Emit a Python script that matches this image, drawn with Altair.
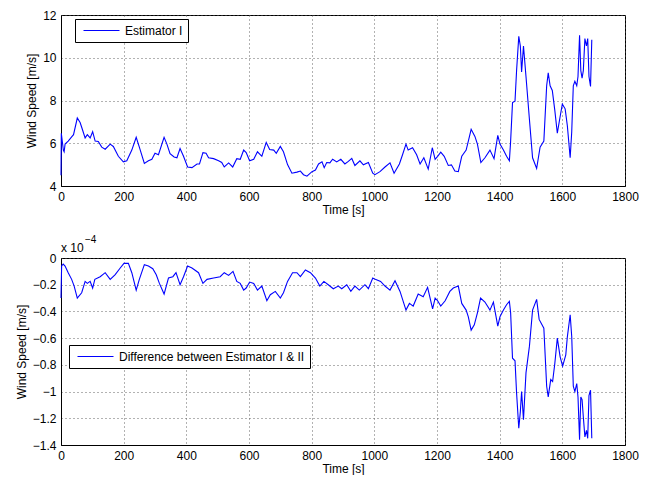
import altair as alt
import pandas as pd

# ---- Top panel: Estimator I wind speed [m/s] ----
t1 = [0, 1, 7.5, 10, 13, 23, 34, 40, 52, 61, 66, 77, 84, 93, 101, 109, 119, 130, 141, 157, 167,
      183, 199, 210, 226, 240, 250, 266, 279, 290, 300, 311, 329, 338, 348, 361, 370, 380, 391,
      404, 418, 434, 442, 453, 463, 471, 487, 503, 513, 521, 535, 548, 561, 572, 583, 591, 602,
      615, 627, 641, 655, 666, 679, 687, 700, 710, 723, 737, 753, 764, 774, 785, 801, 812, 822,
      833, 840, 848, 858, 867, 880, 893, 906, 917, 928, 938, 954, 965, 981, 995, 1002, 1018,
      1034, 1050, 1063, 1080, 1090, 1101, 1108, 1122, 1135, 1146, 1158, 1172, 1185, 1194, 1202,
      1212, 1223, 1236, 1246, 1257, 1268, 1279, 1293, 1300, 1309, 1321, 1329, 1340, 1353, 1369,
      1382, 1394, 1401, 1412, 1422, 1431, 1435, 1441, 1449, 1454, 1461, 1466, 1470, 1476, 1484,
      1495, 1505, 1518, 1529, 1541, 1550, 1555, 1561, 1568, 1576, 1584, 1593, 1600, 1609, 1616,
      1625, 1630, 1635, 1640, 1646, 1650, 1655, 1659, 1663, 1667, 1672, 1677, 1681, 1685, 1690,
      1694]
v1 = [4.5, 6.47, 5.68, 5.6, 5.96, 6.1, 6.3, 6.4, 7.18, 6.97, 6.75, 6.25, 6.4, 6.25, 6.54, 6.1,
      6.08, 5.82, 5.72, 5.96, 5.85, 5.39, 5.13, 5.18, 5.68, 6.28, 5.82, 5.06, 5.18, 5.25, 5.53,
      5.46, 6.28, 5.96, 5.51, 5.36, 5.32, 5.75, 5.39, 4.89, 4.86, 5.03, 5.03, 5.56, 5.53, 5.32,
      5.28, 5.18, 5.10, 4.89, 5.08, 4.89, 5.28, 5.25, 5.68, 5.56, 5.18, 5.25, 5.60, 5.39, 6.04,
      5.71, 5.68, 5.53, 5.85, 5.60, 5.00, 4.60, 4.65, 4.70, 4.53, 4.46, 4.67, 4.75, 5.03, 5.13,
      4.86, 5.10, 5.08, 5.25, 5.13, 5.25, 5.03, 5.15, 5.29, 4.96, 5.18, 4.99, 5.10, 4.60, 4.53,
      4.67, 4.89, 5.08, 4.60, 5.03, 5.46, 5.96, 5.68, 5.79, 5.46, 5.03, 5.32, 4.79, 5.79, 5.25,
      5.39, 5.58, 5.39, 4.96, 4.99, 4.70, 4.67, 5.39, 5.68, 6.10, 6.65, 6.32, 5.96, 5.10, 5.32,
      5.68, 5.28, 6.37, 5.96, 5.68, 5.39, 5.18, 6.10, 7.90, 7.97, 9.40, 11.0, 10.55, 9.33, 10.55,
      9.12, 7.11, 5.32, 4.82, 5.82, 6.10, 8.69, 9.29, 8.69, 8.47, 7.54, 6.47, 7.25, 7.83, 7.61,
      6.82, 5.32, 6.54, 8.69, 8.90, 8.69, 9.12, 11.05, 9.40, 9.05, 9.40, 10.90, 10.55, 10.90,
      9.12, 8.66, 10.84]
series1 = "Estimator I"

# ---- Bottom panel: difference between estimators [x 1e-4 m/s] ----
t2 = [0, 2, 7, 13, 23, 34, 42, 52, 66, 77, 84, 93, 101, 108, 125, 141, 157, 173, 189, 201, 215,
      226, 240, 250, 266, 279, 293, 304, 314, 329, 343, 357, 367, 380, 391, 404, 418, 439, 453,
      466, 487, 508, 521, 535, 549, 561, 572, 583, 591, 602, 615, 627, 641, 657, 668, 684, 700,
      710, 723, 739, 753, 764, 780, 796, 812, 826, 839, 853, 869, 885, 896, 912, 925, 938, 952,
      970, 981, 995, 1003, 1020, 1034, 1050, 1066, 1082, 1101, 1112, 1124, 1140, 1156, 1170,
      1186, 1194, 1202, 1212, 1226, 1241, 1252, 1268, 1279, 1293, 1300, 1309, 1319, 1329, 1339,
      1353, 1369, 1380, 1394, 1401, 1412, 1422, 1431, 1435, 1441, 1449, 1454, 1461, 1466, 1470,
      1476, 1484, 1495, 1505, 1518, 1526, 1541, 1550, 1555, 1563, 1569, 1576, 1584, 1593, 1601,
      1611, 1616, 1625, 1630, 1635, 1640, 1646, 1650, 1655, 1659, 1663, 1667, 1672, 1677, 1681,
      1685, 1690, 1694]
v2 = [-0.30, -0.06, -0.045, -0.06, -0.11, -0.16, -0.21, -0.30, -0.26, -0.175, -0.19, -0.175,
      -0.225, -0.16, -0.14, -0.11, -0.16, -0.125, -0.075, -0.04, -0.04, -0.11, -0.24, -0.16,
      -0.05, -0.06, -0.08, -0.125, -0.19, -0.27, -0.15, -0.14, -0.11, -0.20, -0.14, -0.06,
      -0.075, -0.11, -0.19, -0.16, -0.15, -0.14, -0.11, -0.13, -0.10, -0.175, -0.19, -0.24,
      -0.225, -0.18, -0.19, -0.24, -0.21, -0.32, -0.275, -0.25, -0.30, -0.26, -0.175, -0.11,
      -0.11, -0.14, -0.09, -0.11, -0.15, -0.21, -0.175, -0.20, -0.23, -0.21, -0.23, -0.20,
      -0.25, -0.21, -0.24, -0.20, -0.23, -0.15, -0.16, -0.175, -0.21, -0.24, -0.17, -0.25,
      -0.39, -0.34, -0.36, -0.27, -0.29, -0.22, -0.38, -0.30, -0.32, -0.36, -0.32, -0.25,
      -0.225, -0.21, -0.34, -0.39, -0.44, -0.54, -0.50, -0.41, -0.30, -0.33, -0.39, -0.33,
      -0.51, -0.44, -0.39, -0.35, -0.325, -0.41, -0.75, -0.77, -1.01, -1.275, -1.15, -1.00,
      -1.21, -0.86, -0.66, -0.39, -0.31, -0.46, -0.525, -0.96, -1.04, -0.91, -0.925, -0.79,
      -0.60, -0.74, -0.81, -0.725, -0.59, -0.425, -0.59, -0.96, -1.00, -0.94, -1.04, -1.36,
      -1.04, -1.06, -1.19, -1.34, -1.29, -1.35, -1.03, -0.99, -1.35]
series2 = "Difference between Estimator I & II"

x_ticks = [0, 200, 400, 600, 800, 1000, 1200, 1400, 1600, 1800]
y1_ticks = [4, 6, 8, 10, 12]
y2_ticks = [0, -0.2, -0.4, -0.6, -0.8, -1, -1.2, -1.4]

df1 = pd.DataFrame({"t": t1, "v": v1, "series": series1})
df2 = pd.DataFrame({"t": t2, "v": v2, "series": series2})

FONT = "Liberation Sans"
BLUE = "#0000ff"


def x_axis():
    return alt.X("t:Q", scale=alt.Scale(domain=[0, 1800], nice=False),
                 axis=alt.Axis(values=x_ticks, title="Time [s]", format="d",
                               labelFlush=False))


def legend(x, y):
    return alt.Legend(title=None, orient="none", legendX=x, legendY=y,
                      symbolType="M-0.5,0H5.5", symbolSize=144, symbolStrokeWidth=1,
                      strokeColor="black", fillColor="white", padding=5,
                      labelFont=FONT, labelFontSize=12, labelColor="black",
                      labelOffset=32, labelLimit=0, cornerRadius=0)


top = alt.Chart(df1).mark_line(strokeWidth=1.1).encode(
    x=x_axis(),
    y=alt.Y("v:Q", scale=alt.Scale(domain=[4, 12], nice=False),
            axis=alt.Axis(values=y1_ticks, title="Wind Speed [m/s]", format="d")),
    color=alt.Color("series:N", scale=alt.Scale(range=[BLUE]), legend=legend(14, 4)),
).properties(width=564, height=171)

line2 = alt.Chart(df2).mark_line(strokeWidth=1.1).encode(
    x=x_axis(),
    y=alt.Y("v:Q", scale=alt.Scale(domain=[-1.4, 0], nice=False),
            axis=alt.Axis(values=y2_ticks, title="Wind Speed [m/s]", format="~g")),
    color=alt.Color("series:N", scale=alt.Scale(range=[BLUE]), legend=legend(8, 87)),
)

ann = pd.DataFrame({"a": [0]})
exp_base = alt.Chart(ann).mark_text(font=FONT, fontSize=12, align="left", baseline="middle",
                                    color="black").encode(
    x=alt.value(0), y=alt.value(-10), text=alt.value("x 10"))
exp_sup = alt.Chart(ann).mark_text(font=FONT, fontSize=10, align="left", baseline="middle",
                                   color="black").encode(
    x=alt.value(24), y=alt.value(-18), text=alt.value("\u22124"))

bottom = alt.layer(line2, exp_base, exp_sup).properties(width=564, height=187)

chart = alt.vconcat(top, bottom, spacing=18).resolve_scale(color="independent").configure(
    padding={"left": 6, "top": 0, "right": 0, "bottom": 0},
    background="white",
).configure_view(
    stroke="black", strokeWidth=1
).configure_axis(
    labelFont=FONT, labelFontSize=12, labelColor="black",
    titleFont=FONT, titleFontSize=12, titleFontWeight="normal", titleColor="black",
    ticks=False, labelPadding=5, titlePadding=4,
    domainColor="black", grid=True, gridColor="#555555", gridDash=[1, 3], gridWidth=1,
    gridOpacity=0.9,
).configure_axisX(titlePadding=2)

chart.save("out.html", embed_options={"renderer": "svg", "actions": False})
